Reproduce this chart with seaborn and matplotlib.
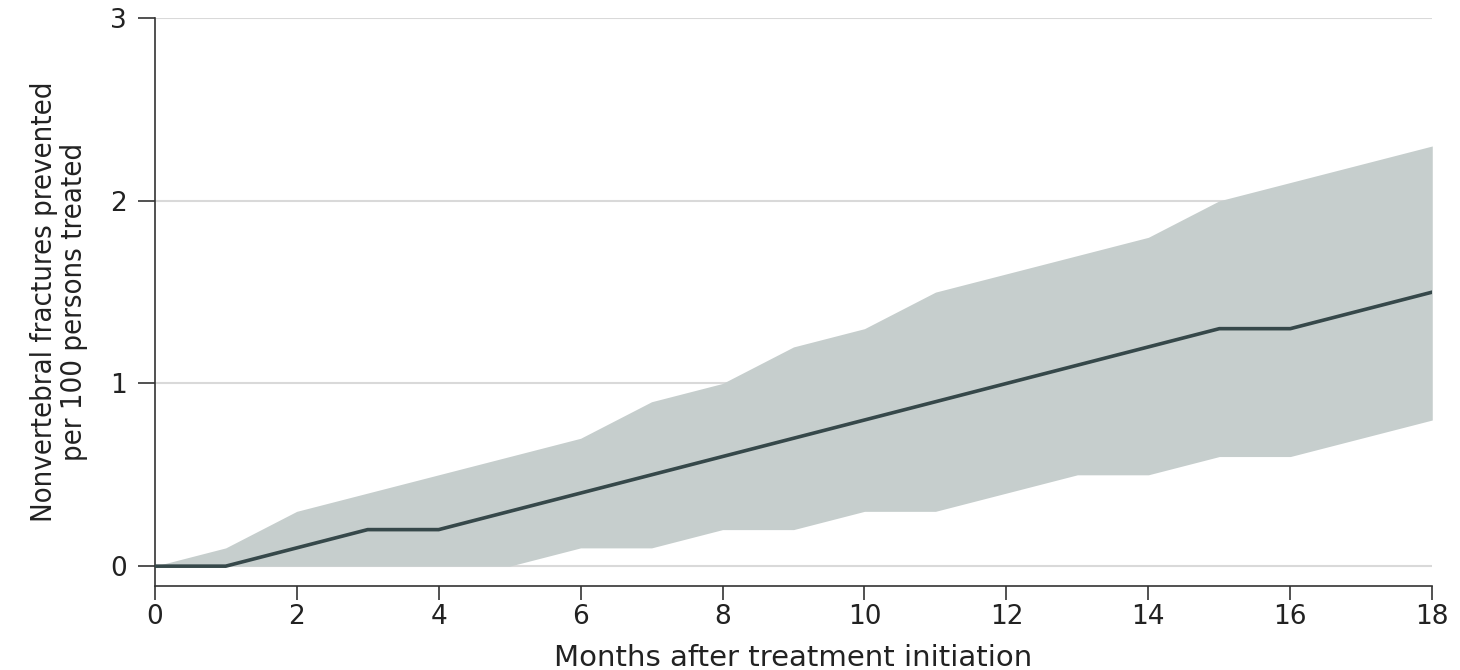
import matplotlib
matplotlib.use("Agg")
import matplotlib.pyplot as plt
import seaborn as sns
import pandas as pd

months = [0, 1, 2, 3, 4, 5, 6, 7, 8, 9, 10, 11, 12, 13, 14, 15, 16, 17, 18]
prevented = [0, 0, 0.1, 0.2, 0.2, 0.3, 0.4, 0.5, 0.6, 0.7, 0.8, 0.9, 1.0, 1.1, 1.2, 1.3, 1.3, 1.4, 1.5]
upper_ci = [0, 0.1, 0.3, 0.4, 0.5, 0.6, 0.7, 0.9, 1.0, 1.2, 1.3, 1.5, 1.6, 1.7, 1.8, 2.0, 2.1, 2.2, 2.3]
lower_ci = [0, 0, 0, 0, 0, 0, 0.1, 0.1, 0.2, 0.2, 0.3, 0.3, 0.4, 0.5, 0.5, 0.6, 0.6, 0.7, 0.8]
x_ticks = [0, 2, 4, 6, 8, 10, 12, 14, 16, 18]
y_ticks = [0, 1, 2, 3]

sns.set_theme(style="white")
plt.rcParams['font.family'] = ['DejaVu Sans']

df = pd.DataFrame({"month": months, "value": prevented})

fig = plt.figure(figsize=(14.6, 6.7), dpi=100)
ax = fig.add_axes([0.106, 0.125, 0.875, 0.848])

for yv in y_ticks:
    ax.axhline(yv, color="#d9d9d9", lw=1.5, zorder=0)

ax.fill_between(months, lower_ci, upper_ci, color="#c6cecd", lw=0, zorder=1)
sns.lineplot(data=df, x="month", y="value", ax=ax, color="#36484a", lw=2.6, zorder=3)

ax.set_xlim(0, 18)
ax.set_ylim(-0.11, 3)
ax.set_xticks(x_ticks)
ax.set_yticks(y_ticks)
ax.tick_params(axis="both", labelsize=19, width=1.2, color="#333333",
               labelcolor="#222222", direction="out", bottom=True, left=True)
ax.tick_params(axis="x", length=10, pad=3)
ax.tick_params(axis="y", length=12, pad=8)

for s in ["top", "right"]:
    ax.spines[s].set_visible(False)
for s in ["left", "bottom"]:
    ax.spines[s].set_color("#333333")
    ax.spines[s].set_linewidth(1.2)

ax.set_xlabel("Months after treatment initiation", fontsize=21, color="#222222",
              labelpad=10, fontweight="medium")

ax.set_ylabel("Nonvertebral fractures prevented\nper 100 persons treated", fontsize=21,
              color="#222222", fontstretch="condensed", labelpad=16, linespacing=1.1)

fig.savefig("out.png", dpi=100)
